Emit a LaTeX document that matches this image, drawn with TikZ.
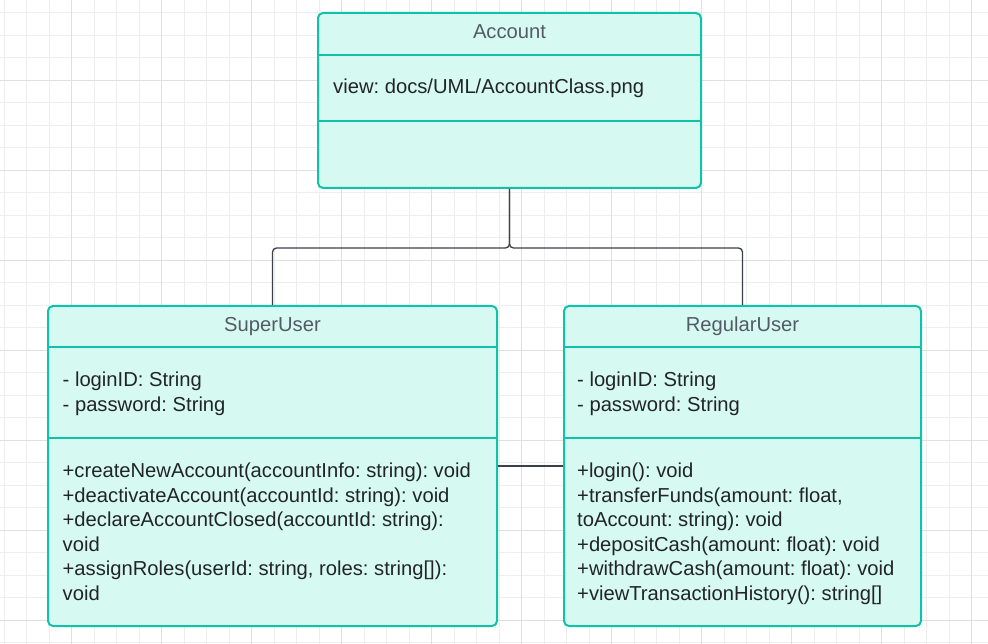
\documentclass[tikz,border=0pt]{standalone}
\usepackage{fontspec}
\setmainfont{Liberation Sans}
\usepackage{tikz}
\frenchspacing

\definecolor{mint}{HTML}{D6F9F2}
\definecolor{tealedge}{HTML}{10C3A8}
\definecolor{headink}{HTML}{535B64}
\definecolor{bodyink}{HTML}{222426}
\definecolor{linkink}{HTML}{3C4048}
\definecolor{gridfine}{HTML}{EEEEEE}
\definecolor{gridbold}{HTML}{E0E0E0}

\begin{document}
\begin{tikzpicture}[x=1pt, y=-1pt,
    classbox/.style={draw=tealedge, fill=mint, line width=2pt, rectangle, rounded corners=5pt},
    divider/.style={draw=tealedge, line width=2pt},
    classname/.style={font=\fontsize{20.2}{24.5}\selectfont, text=headink, inner sep=0pt, anchor=base},
    members/.style={font=\fontsize{20.2}{24.5}\selectfont, text=bodyink, inner sep=0pt, align=left, anchor=north west},
    link/.style={draw=linkink, line width=1.3pt, rounded corners=4pt}]
    \useasboundingbox (0,0) rectangle (988,644);
    \begin{scope}[y=1pt]
        \draw[gridfine, line width=1pt, shift={(4.2,-12.7)}, step=22.5pt] (-4.2,-631.3) grid (983.8,12.7);
        \draw[gridbold, line width=1pt, shift={(71.7,-80.2)}, step=90pt] (-71.7,-563.8) grid (916.3,80.2);
    \end{scope}

    \node[classbox, minimum width=383pt, minimum height=175pt] (account) at (509.5,100.5) {};
    \node[classbox, minimum width=449pt, minimum height=320pt] (super) at (272.5,466) {};
    \node[classbox, minimum width=357pt, minimum height=320pt, right of=super, node distance=470pt] (regular) {};

    \draw[divider] (account.north west) ++(0,43) -- ++(383,0);
    \draw[divider] (account.north west) ++(0,109) -- ++(383,0);
    \draw[divider] (super.north west) ++(0,42) -- ++(449,0);
    \draw[divider] (super.north west) ++(0,133) -- ++(449,0);
    \draw[divider] (regular.north west) ++(0,42) -- ++(357,0);
    \draw[divider] (regular.north west) ++(0,133) -- ++(357,0);

    \node[classname] (accountname) at (509.5,39) {Account};
    \node[classname] (supername) at (272.5,332) {SuperUser};
    \node[classname] (regularname) at (742.5,332) {RegularUser};

    \node[members] (accountattr) at (333,78.7) {view: docs/UML/AccountClass.png};
    \node[members] (superattr) at (62.5,371.7) {- loginID: String\\- password: String};
    \node[members] (superops) at (62.5,462.7) {+createNewAccount(accountInfo: string): void\\+deactivateAccount(accountId: string): void\\+declareAccountClosed(accountId: string):\\void\\+assignRoles(userId: string, roles: string[]):\\void};
    \node[members] (regularattr) at (577,371.7) {- loginID: String\\- password: String};
    \node[members] (regularops) at (577,462.7) {+login(): void\\+transferFunds(amount: float,\\toAccount: string): void\\+depositCash(amount: float): void\\+withdrawCash(amount: float): void\\+viewTransactionHistory(): string[]};

    \draw[link] (account.south) -- ++(0,59) -| (super.north);
    \draw[link] (account.south) -- ++(0,59) -| (regular.north);
    \draw[link] (super) -- (regular);
\end{tikzpicture}
\end{document}
